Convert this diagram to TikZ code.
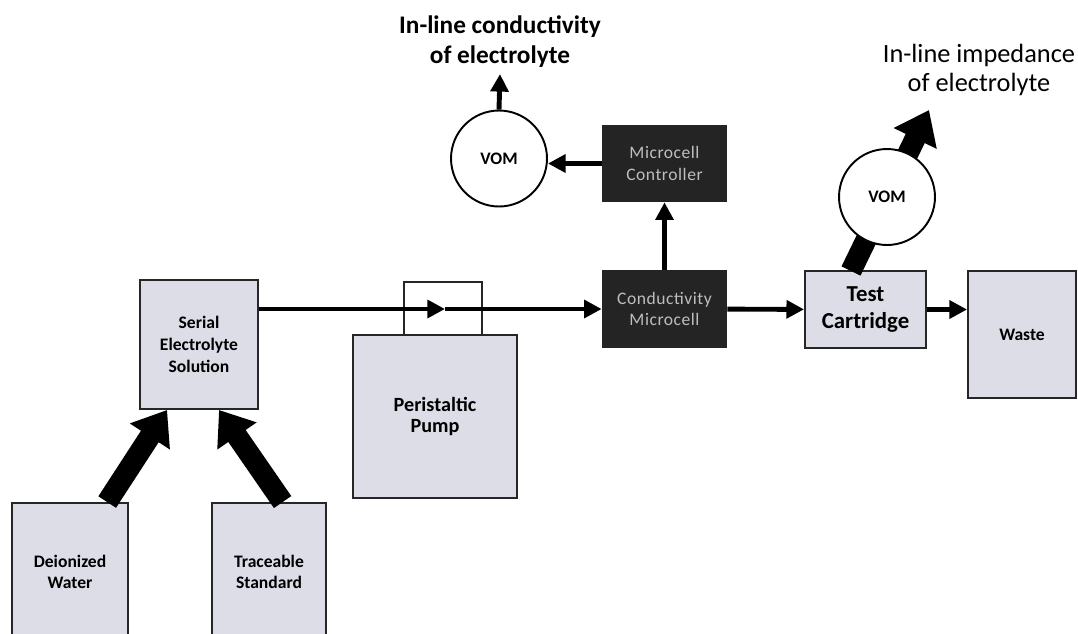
\documentclass[tikz,border=0pt]{standalone}
\usepackage{fontspec}
\setmainfont{Carlito}
\newfontfamily\cellfont[LetterSpace=3]{Carlito}
\usetikzlibrary{arrows.meta}
\definecolor{boxfill}{RGB}{221,221,232}
\definecolor{darkbox}{RGB}{36,36,36}
\definecolor{darktext}{RGB}{190,190,190}

\begin{document}
\begin{tikzpicture}[x=0.02cm, y=-0.02cm,
    unit/.style={rectangle, draw=black!85, line width=1.1pt, fill=boxfill, align=center, font=\bfseries\fontsize{10}{12.3}\selectfont},
    cell/.style={rectangle, fill=darkbox, text=darktext, align=center, minimum width=2.5cm, font=\cellfont\fontsize{10}{12.3}\selectfont},
    meter/.style={circle, draw=black, line width=1.1pt, fill=white, minimum size=1.92cm, font=\bfseries\fontsize{10}{12}\selectfont},
    readout/.style={align=center, font=\fontsize{15}{16.5}\selectfont},
    flow/.style={line width=2.8pt, -{Triangle[length=10pt,width=10pt]}},
    signal/.style={line width=2.8pt, -{Triangle[length=10pt,width=10pt]}},
    feed/.style={line width=12pt, -{Triangle[length=18pt,width=26pt]}}]
    \useasboundingbox (0,0) rectangle (1078,633);

        % Nodes
        \node (serial) [unit, minimum width=2.36cm, minimum height=2.58cm] at (199,344.5) {Serial\\Electrolyte\\Solution};
        \node (water) [unit, minimum width=2.32cm, minimum height=2.76cm] at (70,572) {Deionized\\Water};
        \node (trace) [unit, minimum width=2.28cm, minimum height=2.76cm] at (269,572) {Traceable\\Standard};
        \node (pumphead) [rectangle, draw=black!85, line width=0.9pt, minimum width=1.56cm, minimum height=1.06cm] at (443,308.5) {};
        \node (pump) [unit, minimum width=3.28cm, minimum height=3.26cm, font=\bfseries\fontsize{11.5}{12.3}\selectfont] at (435,416.5) {Peristaltic\\Pump};
        \node (microcell) [cell, minimum height=1.56cm] at (664.5,309) {Conductivity\\Microcell};
        \node (controller) [cell, minimum height=1.54cm] at (664.5,163.5) {Microcell\\Controller};
        \node (vom1) [meter] at (499,158.5) {VOM};
        \node (condlabel) [readout, font=\bfseries\fontsize{14.4}{17}\selectfont] at (500,42) {In-line conductivity\\of electrolyte};
        \node (testcart) [unit, minimum width=2.42cm, minimum height=1.54cm, font=\bfseries\fontsize{13}{15}\selectfont] at (865.5,309.5) {Test\\Cartridge};
        \node (waste) [unit, minimum width=2.16cm, minimum height=2.54cm] at (1022,334.5) {Waste};
        \node (implabel) [readout] at (979,70) {In-line impedance\\of electrolyte};
        \coordinate (pumpmid) at (445,309);
        \coordinate (impfoot) at (851,271);
        \coordinate (imptip) at (929,110);

        % Edges
        \draw[feed] (water.62) -- (serial.-116);
        \draw[feed] (trace.79) -- (serial.-73);
        \draw[flow] (serial.east |- pumpmid) -- (pumpmid);
        \draw[flow] (pumpmid) -- (microcell);
        \draw[signal] (microcell) -- (controller);
        \draw[signal] (controller.west) -- (vom1.east |- controller.west);
        \draw[signal] (vom1.north) -- (condlabel.south);
        \draw[flow] (microcell) -- (testcart);
        \draw[signal] (testcart.east) -- (testcart.east -| waste.west);
        \draw[feed] (impfoot) -- (imptip);
        \node (vom2) [meter] at (887,197) {VOM};

    \end{tikzpicture}
\end{document}
